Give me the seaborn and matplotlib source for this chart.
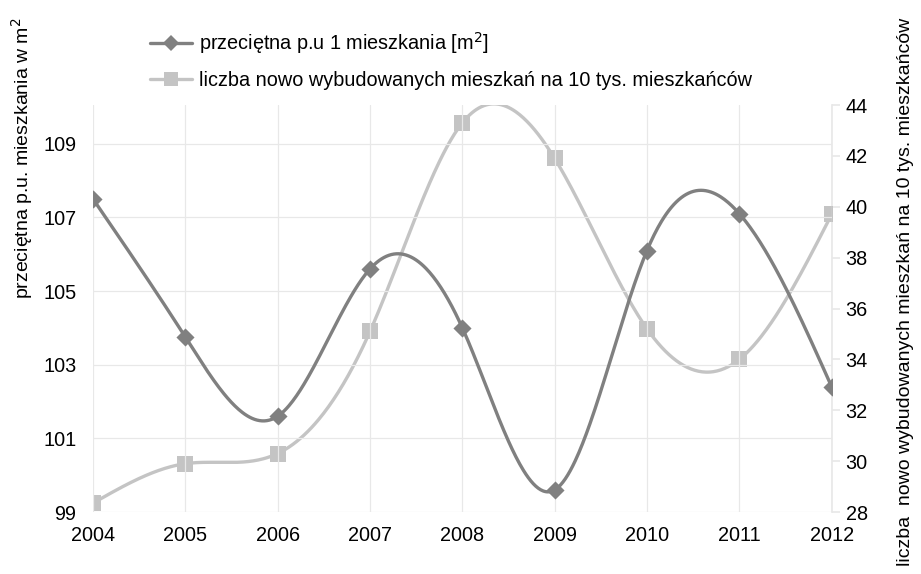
import numpy as np
import pandas as pd
import matplotlib
matplotlib.use('Agg')
import matplotlib.pyplot as plt
import seaborn as sns
from matplotlib.lines import Line2D

years = [2004, 2005, 2006, 2007, 2008, 2009, 2010, 2011, 2012]
avg_area = [107.5, 103.75, 101.6, 105.6, 104.0, 99.6, 106.1, 107.1, 102.4]
new_flats = [28.35, 29.9, 30.3, 35.1, 43.3, 41.9, 35.2, 34.0, 39.7]

left_ticks = [99, 101, 103, 105, 107, 109]
right_ticks = [28, 30, 32, 34, 36, 38, 40, 42, 44]

label_area = 'przeciętna p.u 1 mieszkania [m$^2$]'
label_flats = 'liczba nowo wybudowanych mieszkań na 10 tys. mieszkańców'
ylabel_left = 'przeciętna p.u. mieszkania w m$^2$'
ylabel_right = 'liczba  nowo wybudowanych mieszkań na 10 tys. mieszkańców'

DARK = '#808080'
LIGHT = '#c4c4c4'
GRID = '#e8e8e8'


def smooth(xs, ys, n=600):
    # natural cubic spline through the points (smoothed line look)
    t = np.asarray(xs, float)
    v = np.asarray(ys, float)
    k = len(t)
    h = np.diff(t)
    A = np.zeros((k, k))
    r = np.zeros(k)
    A[0, 0] = A[-1, -1] = 1
    for i in range(1, k - 1):
        A[i, i - 1] = h[i - 1]
        A[i, i] = 2 * (h[i - 1] + h[i])
        A[i, i + 1] = h[i]
        r[i] = 6 * ((v[i + 1] - v[i]) / h[i] - (v[i] - v[i - 1]) / h[i - 1])
    m = np.linalg.solve(A, r)
    tt = np.linspace(t[0], t[-1], n)
    idx = np.clip(np.searchsorted(t, tt, side='right') - 1, 0, k - 2)
    t0, t1 = t[idx], t[idx + 1]
    hh = t1 - t0
    a = (t1 - tt) / hh
    b = (tt - t0) / hh
    yy = (a * v[idx] + b * v[idx + 1]
          + ((a ** 3 - a) * m[idx] + (b ** 3 - b) * m[idx + 1]) * hh ** 2 / 6)
    return pd.DataFrame({'x': tt, 'y': yy})


sns.set_theme(style='white')
plt.rcParams['font.family'] = ['Liberation Sans', 'DejaVu Sans']
plt.rcParams['text.color'] = 'black'
plt.rcParams['xtick.color'] = 'black'
plt.rcParams['ytick.color'] = 'black'

fig = plt.figure(figsize=(9.21, 5.74), dpi=100)
ax = fig.add_axes([0.101, 0.108, 0.802, 0.709])
ax2 = ax.twinx()

df = pd.DataFrame({'year': years, 'area': avg_area, 'flats': new_flats})

sns.lineplot(data=smooth(years, avg_area), x='x', y='y', ax=ax, color=DARK,
             linewidth=2.4, sort=False, estimator=None, zorder=3)
sns.scatterplot(data=df, x='year', y='area', ax=ax, color=DARK, marker='D',
                s=85, linewidth=0, zorder=4)

sns.lineplot(data=smooth(years, new_flats), x='x', y='y', ax=ax2, color=LIGHT,
             linewidth=2.4, sort=False, estimator=None, zorder=3)
sns.scatterplot(data=df, x='year', y='flats', ax=ax2, color=LIGHT, marker='s',
                s=135, linewidth=0, zorder=4)

ax.set_zorder(ax2.get_zorder() + 1)
ax.patch.set_visible(False)

ax.set_xlim(2004, 2012)
ax.set_ylim(99, 110.05)
ax2.set_ylim(28, 44)
ax.set_xticks(years)
ax.set_xticklabels([str(y) for y in years])
ax.set_yticks(left_ticks)
ax2.set_yticks(right_ticks)

ax.grid(True, color=GRID, linewidth=0.9)
ax2.grid(False)
for a in (ax, ax2):
    for s in a.spines.values():
        s.set_visible(False)
ax2.spines['right'].set_visible(True)
ax2.spines['right'].set_color(GRID)

ax.tick_params(axis='x', length=6, color=GRID, labelcolor='black', labelsize=14.3, pad=4)
ax.tick_params(axis='y', length=0, labelcolor='black', labelsize=14.3, pad=12)
ax2.tick_params(axis='y', length=6, color=GRID, labelcolor='black', labelsize=14.3,
                pad=4, right=True)

ax.set_xlabel('')
ax.set_ylabel('')
ax2.set_ylabel('')
fig.text(22 / 921, 1 - 158 / 574, ylabel_left, rotation=90, ha='center', va='center',
         fontsize=14)
fig.text(905 / 921, 1 - 18 / 574, ylabel_right, rotation=90, ha='center', va='top',
         fontsize=14)

handles = [
    Line2D([], [], color=DARK, linewidth=2.4, marker='D', markersize=8, markeredgewidth=0),
    Line2D([], [], color=LIGHT, linewidth=2.4, marker='s', markersize=10, markeredgewidth=0),
]
fig.legend(handles, [label_area, label_flats], loc='upper left',
           bbox_to_anchor=(150 / 921, 1 - 30 / 574), frameon=False, fontsize=14.3,
           borderpad=0, borderaxespad=0, handlelength=2.1, handletextpad=0.35,
           labelspacing=0.75)

fig.savefig('out.png', dpi=100)
